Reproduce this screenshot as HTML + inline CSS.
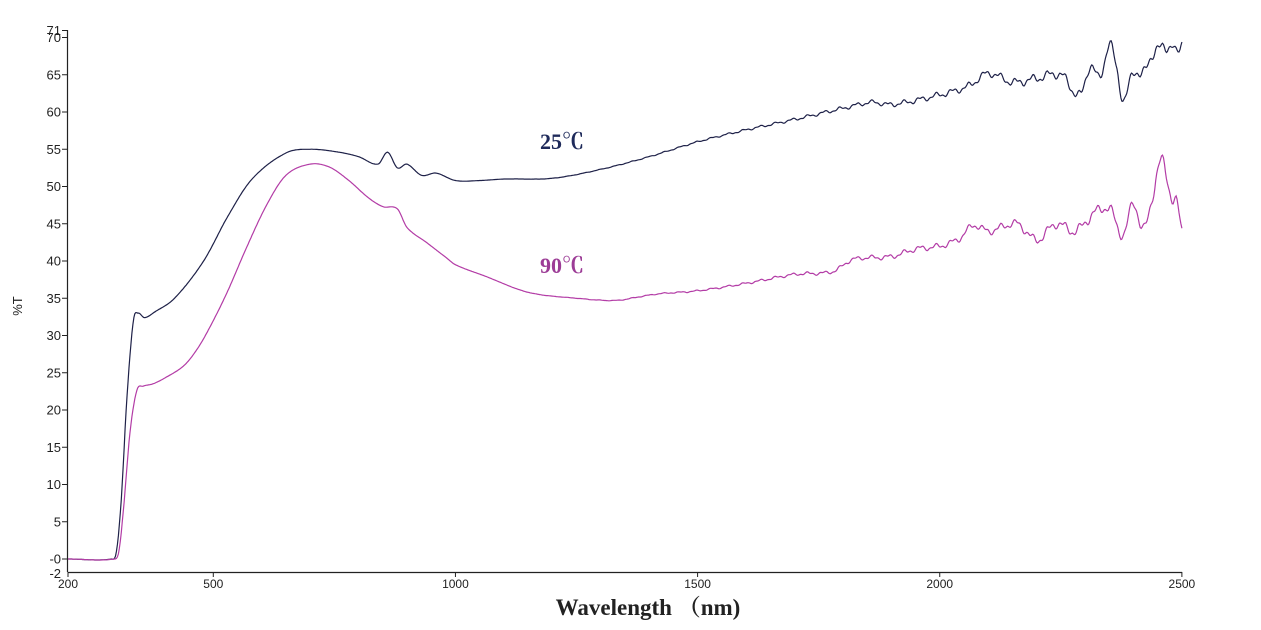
<!DOCTYPE html>
<html><head><meta charset="utf-8"><style>
body{margin:0;background:#fff;}
svg text{font-family:"Liberation Sans",sans-serif;}
</style></head><body>
<svg id="s" width="1261" height="625" xmlns="http://www.w3.org/2000/svg">
<g stroke="#222" stroke-width="1.2" fill="none">
<line x1="67.5" y1="30" x2="67.5" y2="572"/>
<line x1="67.5" y1="572.5" x2="1182" y2="572.5"/>
</g>
<g id="ticks"></g>
<polyline id="c25" fill="none" stroke="#1e2148" stroke-width="1.2"/>
<polyline id="c90" fill="none" stroke="#b33ca6" stroke-width="1.2"/>
<text x="540" y="149" font-weight="bold" font-size="22" fill="#1e2a5a" style="font-family:'Liberation Serif','Noto Serif CJK SC',serif">25℃</text>
<text x="540" y="273" font-weight="bold" font-size="22" fill="#9c3c96" style="font-family:'Liberation Serif','Noto Serif CJK SC',serif">90℃</text>
<text x="22" y="306" font-size="13" fill="#222" transform="rotate(-90 22 306)" text-anchor="middle">%T</text>
<text x="648" y="615" font-weight="bold" font-size="23" fill="#222" text-anchor="middle" style="font-family:'Liberation Serif','Noto Serif CJK SC',serif">Wavelength （nm)</text>
</svg>
<script>
var X=function(w){return 68+(w-200)*0.4843},Y=function(v){return 559-7.45*v};
var g=document.getElementById("ticks"),h="";
[0,5,10,15,20,25,30,35,40,45,50,55,60,65,70].forEach(function(v){var y=Y(v);h+='<line x1="62" x2="67" y1="'+y+'" y2="'+y+'" stroke="#222"/><text x="61" y="'+(y+4.5)+'" font-size="13" text-anchor="end" fill="#222">'+(v==0?'-0':v)+'</text>';});
h+='<line x1="62" x2="67" y1="30.5" y2="30.5" stroke="#222"/><text x="61" y="35" font-size="13" text-anchor="end" fill="#222">71</text>';
h+='<text x="61" y="578" font-size="13" text-anchor="end" fill="#222">-2</text>';
[200,500,1000,1500,2000,2500].forEach(function(w){var x=X(w);h+='<line x1="'+x+'" x2="'+x+'" y1="572" y2="577" stroke="#222"/><text x="'+x+'" y="588" font-size="12" text-anchor="middle" fill="#222">'+w+'</text>';});
g.innerHTML=h;
function interp(k,w){var i=0;while(i<k.length-2&&k[i+1][0]<w)i++;
var p0=k[Math.max(0,i-1)],p1=k[i],p2=k[i+1],p3=k[Math.min(k.length-1,i+2)];
var t=(w-p1[0])/(p2[0]-p1[0]);t=Math.max(0,Math.min(1,t));
var h=p2[0]-p1[0];
var m1=(p2[1]-p0[1])/(p2[0]-p0[0]||1)*h, m2=(p3[1]-p1[1])/(p3[0]-p1[0]||1)*h;
var lo=Math.min(p1[1],p2[1]),hi=Math.max(p1[1],p2[1]);
var t2=t*t,t3=t2*t;
var v=(2*t3-3*t2+1)*p1[1]+(t3-2*t2+t)*m1+(-2*t3+3*t2)*p2[1]+(t3-t2)*m2;
return v;}
function build(id,k,amp){var pts=[];for(var w=200;w<=2500;w+=2){var v=interp(k,w);
if(w>1000){var f=(w-1000)/1500;var s=amp*f*f;v+=s*(Math.sin(w*0.19)+0.5*Math.sin(w*0.47+1))*0.5;}
pts.push(X(w).toFixed(1)+","+Y(v).toFixed(1));}
document.getElementById(id).setAttribute("points",pts.join(" "));}
build("c25",[[200,0],[290,0],[300,1],[310,8],[322,22],[335,32],[345,33],[358,32.4],[380,33.2],[420,35],[480,40],[530,46],[580,51],[650,54.5],[700,55],[760,54.6],[800,54],[840,53],[860,54.6],[880,52.5],[900,53],[930,51.5],[960,51.8],[1000,50.8],[1050,50.8],[1100,51],[1200,51.1],[1300,52.3],[1400,54],[1500,56],[1600,57.6],[1700,59],[1800,60.5],[1860,61.3],[1900,61],[2000,62.3],[2060,63.5],[2100,65.2],[2150,64],[2200,64.5],[2250,65],[2290,62.2],[2310,66.2],[2330,64.6],[2350,69],[2365,66],[2380,61.5],[2400,65.5],[2420,65],[2440,68],[2460,68.5],[2480,69],[2490,67.5],[2500,69.5]],1.4);
build("c90",[[200,0],[295,0],[305,1],[315,7],[328,17],[342,22.6],[355,23.2],[375,23.5],[400,24.3],[440,26],[470,28.5],[500,32],[530,36],[570,42],[610,47.5],[650,51.5],[700,53],[740,52.6],[780,50.8],[820,48.5],[850,47.3],[880,47],[900,44.5],[940,42.5],[980,40.5],[1000,39.5],[1060,38],[1150,35.8],[1250,35],[1330,34.7],[1380,35.2],[1420,35.6],[1500,36],[1600,37],[1700,38.2],[1780,38.6],[1820,40.2],[1900,40.6],[1950,41.6],[2000,42],[2040,43],[2070,44.8],[2100,44],[2160,45],[2200,42.8],[2240,45],[2280,44],[2320,46.5],[2350,47],[2380,43.5],[2400,48],[2420,44],[2440,49],[2460,53.5],[2480,48],[2490,47.5],[2500,44.5]],1.4);
</script>
</body></html>
